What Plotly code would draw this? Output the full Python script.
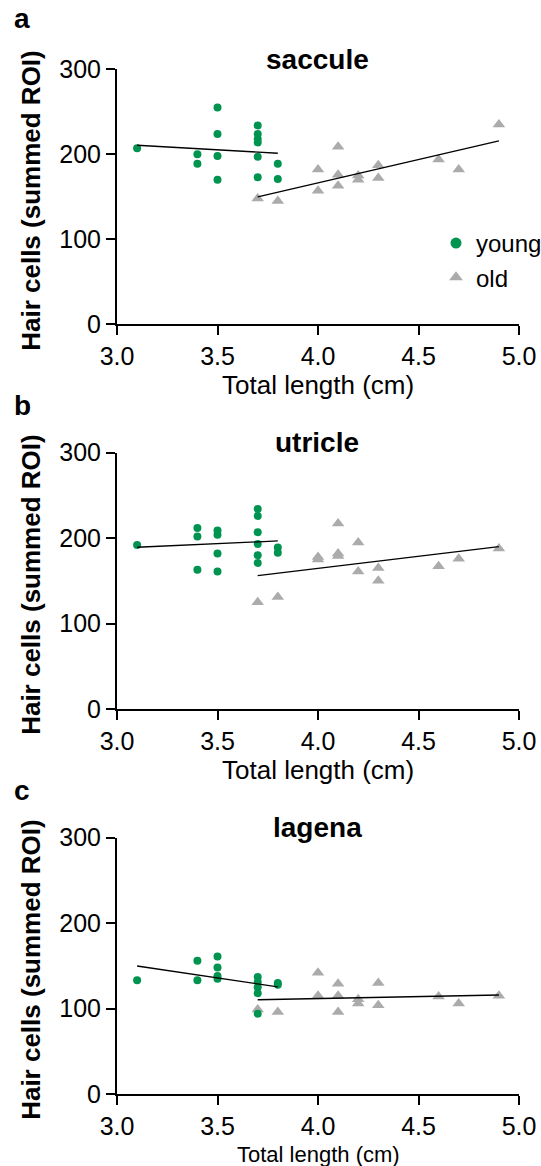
import numpy as np
import plotly.graph_objects as go

W, H = 541, 1166

# ---------------- data ----------------
panels = ["saccule", "utricle", "lagena"]
letters = ["a", "b", "c"]

saccule_young_x = [3.1, 3.4, 3.4, 3.5, 3.5, 3.5, 3.5, 3.7, 3.7, 3.7, 3.7, 3.7, 3.7, 3.8, 3.8]
saccule_young_y = [207, 200, 189, 255, 224, 198, 170, 234, 224, 218, 214, 197, 173, 189, 171]
saccule_old_x = [3.7, 3.8, 4.0, 4.0, 4.1, 4.1, 4.1, 4.2, 4.2, 4.3, 4.3, 4.6, 4.7, 4.9]
saccule_old_y = [148, 145, 182, 157, 209, 176, 163, 175, 170, 187, 172, 194, 182, 235]

utricle_young_x = [3.1, 3.4, 3.4, 3.4, 3.5, 3.5, 3.5, 3.5, 3.7, 3.7, 3.7, 3.7, 3.7, 3.7, 3.8, 3.8]
utricle_young_y = [192, 212, 202, 163, 209, 204, 182, 161, 234, 226, 207, 193, 180, 171, 189, 183]
utricle_old_x = [3.7, 3.8, 4.0, 4.0, 4.1, 4.1, 4.1, 4.2, 4.2, 4.3, 4.3, 4.6, 4.7, 4.9]
utricle_old_y = [125, 131, 178, 175, 217, 182, 179, 195, 161, 165, 150, 167, 176, 188]

lagena_young_x = [3.1, 3.4, 3.4, 3.5, 3.5, 3.5, 3.5, 3.7, 3.7, 3.7, 3.7, 3.7, 3.8, 3.8]
lagena_young_y = [133, 156, 133, 161, 148, 138, 135, 137, 131, 125, 118, 94, 130, 128]
lagena_old_x = [3.7, 3.8, 4.0, 4.0, 4.1, 4.1, 4.1, 4.2, 4.2, 4.3, 4.3, 4.6, 4.7, 4.9]
lagena_old_y = [99, 96, 142, 115, 129, 115, 96, 111, 106, 130, 104, 114, 106, 115]

young_x = [saccule_young_x, utricle_young_x, lagena_young_x]
young_y = [saccule_young_y, utricle_young_y, lagena_young_y]
old_x = [saccule_old_x, utricle_old_x, lagena_old_x]
old_y = [saccule_old_y, utricle_old_y, lagena_old_y]

x_ticks = [3.0, 3.5, 4.0, 4.5, 5.0]
y_ticks = [0, 100, 200, 300]
x_title = "Total length (cm)"
y_title = "Hair cells (summed ROI)"

GREEN = "#009450"
GRAY = "#ABABAB"
FONT = "Arial, Liberation Sans, sans-serif"

# ---------------- layout geometry (pixels) ----------------
x_left, x_right = 117, 519
y_tops = [69.3, 452.7, 837.7]
y_bots = [324.3, 709.0, 1094.0]
xtitle_y = [385, 770, 1154]
xtitle_size = [26, 26, 22]


def fx(px):
    return px / W


def fy(py):
    return 1 - py / H


fig = go.Figure()

for i in range(3):
    ax = "" if i == 0 else str(i + 1)
    xa, ya = "x" + ax, "y" + ax
    # old first, then young on top
    fig.add_trace(go.Scatter(x=old_x[i], y=old_y[i], mode="markers", xaxis=xa, yaxis=ya,
                             marker=dict(symbol="triangle-up", size=11, color=GRAY),
                             showlegend=False, cliponaxis=False))
    fig.add_trace(go.Scatter(x=young_x[i], y=young_y[i], mode="markers", xaxis=xa, yaxis=ya,
                             marker=dict(symbol="circle", size=8, color=GREEN),
                             showlegend=False, cliponaxis=False))
    # linear regression lines
    for gx, gy in ((young_x[i], young_y[i]), (old_x[i], old_y[i])):
        k, b = np.polyfit(gx, gy, 1)
        xs = np.array([min(gx), max(gx)])
        fig.add_trace(go.Scatter(x=xs, y=k * xs + b, mode="lines", xaxis=xa, yaxis=ya,
                                 line=dict(color="black", width=1.3), showlegend=False,
                                 hoverinfo="skip"))

    axis_common = dict(showline=True, linecolor="black", linewidth=2, ticks="outside",
                       ticklen=9, tickwidth=2, tickcolor="black", showgrid=False,
                       zeroline=False, automargin=False,
                       tickfont=dict(family=FONT, size=25, color="black"))
    fig.layout["xaxis" + ax] = dict(domain=[fx(x_left), fx(x_right)], range=[3, 5],
                                    tickvals=x_ticks, ticktext=[f"{v:.1f}" for v in x_ticks],
                                    anchor=ya, **axis_common)
    fig.layout["yaxis" + ax] = dict(domain=[fy(y_bots[i]), fy(y_tops[i])], range=[0, 300],
                                    tickvals=y_ticks, anchor=xa, **axis_common)

    # annotations: title, panel letter, axis titles
    fig.add_annotation(text="<b>%s</b>" % panels[i], xref="paper", yref="paper",
                       x=fx(317), y=fy([59, 442, 827][i]), xanchor="center", yanchor="middle",
                       showarrow=False, font=dict(family=FONT, size=28, color="black"))
    fig.add_annotation(text="<b>%s</b>" % letters[i], xref="paper", yref="paper",
                       x=fx(12), y=fy([18, 405, 790][i]), xanchor="left", yanchor="middle",
                       showarrow=False, font=dict(family=FONT, size=28, color="black"))
    fig.add_annotation(text=x_title, xref="paper", yref="paper",
                       x=fx(318), y=fy(xtitle_y[i]), xanchor="center", yanchor="middle",
                       showarrow=False,
                       font=dict(family=FONT, size=xtitle_size[i], color="black"))
    fig.add_annotation(text="<b>%s</b>" % y_title, xref="paper", yref="paper", textangle=-90,
                       x=fx(31), y=fy((y_tops[i] + y_bots[i]) / 2 + 4), xanchor="center",
                       yanchor="middle", showarrow=False,
                       font=dict(family=FONT, size=26, color="black"))

# legend-only entries
fig.add_trace(go.Scatter(x=[None], y=[None], mode="markers", name="young",
                         marker=dict(symbol="circle", size=11, color=GREEN)))
fig.add_trace(go.Scatter(x=[None], y=[None], mode="markers", name="old",
                         marker=dict(symbol="triangle-up", size=12, color=GRAY)))

fig.update_layout(
    template="none",
    width=W, height=H,
    margin=dict(l=0, r=0, t=0, b=0, pad=0, autoexpand=False),
    paper_bgcolor="white", plot_bgcolor="white",
    font=dict(family=FONT, color="black"),
    showlegend=True,
    legend=dict(x=fx(436), y=fy(221), xanchor="left", yanchor="top",
                bgcolor="rgba(0,0,0,0)", font=dict(family=FONT, size=24, color="black"),
                tracegroupgap=0, itemwidth=30),
)

fig.write_html("out.html",
               config={"displayModeBar": False},
               post_script="document.body.style.margin='0';"
                           "document.body.style.overflow='hidden';")
